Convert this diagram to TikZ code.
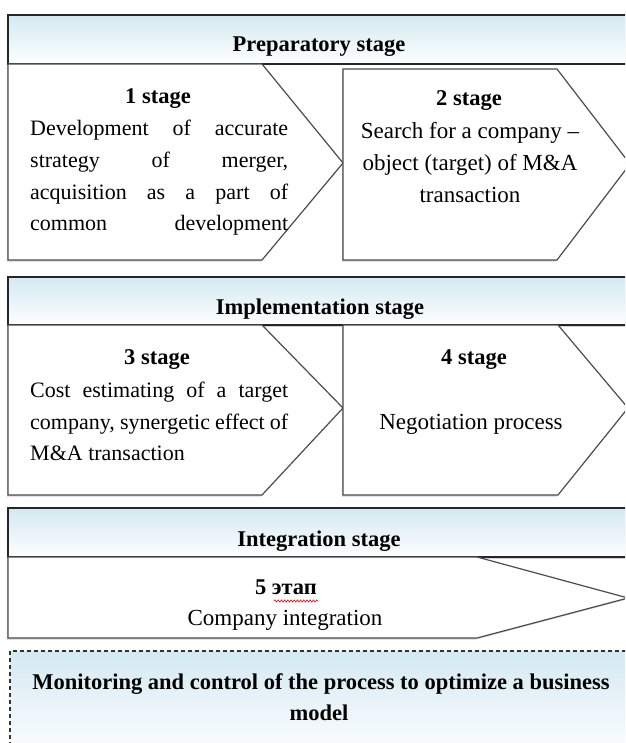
\documentclass[tikz,border=0pt]{standalone}
\usepackage{fontspec}
\setmainfont{Liberation Serif}
\usetikzlibrary{shadows,decorations.pathmorphing}
\definecolor{hdr}{RGB}{212,233,242}
\begin{document}
\begin{tikzpicture}[x=1pt,y=-1pt,
  hdrbox/.style={draw=black!85, line width=1.3pt, top color=hdr, bottom color=white!96!hdr,
    drop shadow={shadow xshift=-1.2pt, shadow yshift=-1.5pt, opacity=0.35}},
  chev/.style={draw=black!70, line width=1.2pt, fill=white,
    drop shadow={shadow xshift=-1.2pt, shadow yshift=-1.5pt, opacity=0.35}},
  ttl/.style={font=\fontsize{22.5}{27}\selectfont\bfseries, anchor=mid, inner sep=0pt, yshift=-5pt},
  txt/.style={font=\fontsize{23}{27}\selectfont, anchor=mid, inner sep=0pt, yshift=-5pt},
  jtxt/.style={font=\fontsize{22}{26}\selectfont, anchor=mid west, inner sep=0pt, yshift=-5pt}]
\useasboundingbox (0,0) rectangle (625,743);
\clip (0,0) rectangle (625,743);
\fill[white] (0,0) rectangle (625,743);

% ---------- Preparatory stage ----------
\path[hdrbox] (8,15) rectangle (660,64);
\path[chev] (8,64) -- (262,64) -- (343,163) -- (262,260) -- (8,260) -- cycle;
\path[chev] (343,69) -- (557,69) -- (630,164) -- (557,260) -- (343,260) -- cycle;
\node[ttl] (h1) at (319,44) {Preparatory stage};
\node[ttl] (s1) at (158,96) {1 stage};
\node[jtxt] (s1a) at (30,128) {\hbox to 258pt{Development\hfill of\hfill accurate}};
\node[jtxt] (s1b) at (30,160) {\hbox to 258pt{strategy\hfill of\hfill merger,}};
\node[jtxt] (s1c) at (30,192) {\hbox to 258pt{acquisition\hfill as\hfill a\hfill part\hfill of}};
\node[jtxt] (s1d) at (30,223) {\hbox to 258pt{common\hfill development}};
\node[ttl] (s2) at (469,98) {2 stage};
\node[txt] (s2a) at (470,131) {Search for a company –};
\node[txt] (s2b) at (470,163) {object (target) of M\&A};
\node[txt] (s2c) at (470,195) {transaction};

% ---------- Implementation stage ----------
\path[hdrbox] (8,277) rectangle (660,325);
\path[chev] (8,325) -- (262,325) -- (343,408) -- (262,495) -- (8,495) -- cycle;
\path[chev] (343,325) -- (558,325) -- (628,408) -- (558,495) -- (343,495) -- cycle;
\node[ttl] (h2) at (320,307) {Implementation stage};
\node[ttl] (s3) at (157,357) {3 stage};
\node[jtxt] (s3a) at (30,390) {\hbox to 258pt{Cost\hfill estimating\hfill of\hfill a\hfill target}};
\node[jtxt] (s3b) at (30,422) {\hbox to 258pt{company,\hfill synergetic\hfill effect\hfill of}};
\node[jtxt] (s3c) at (30,453) {M\&A transaction};
\node[ttl] (s4) at (474,357) {4 stage};
\node[txt] (s4a) at (471,422) {Negotiation process};

% ---------- Integration stage ----------
\path[hdrbox] (8,508) rectangle (660,557);
\path[chev] (8,557) -- (477,557) -- (628,598) -- (477,638) -- (8,638) -- cycle;
\node[ttl] (h3) at (319,539) {Integration stage};
\node[ttl] (s5) at (286,587) {5 этап};
\draw[red, line width=0.6pt, decorate, decoration={snake, amplitude=1.1pt, segment length=3.2pt}]
  (274,601) -- (318,601);
\node[txt] (s5a) at (285,618) {Company integration};

% ---------- Monitoring ----------
\path[top color=hdr, bottom color=white] (10,651) rectangle (660,760);
\draw[black!80, line width=1.1pt, dash pattern=on 4pt off 3pt] (10,760) -- (10,651) -- (660,651);
\node[ttl] (m1) at (321,682) {Monitoring and control of the process to optimize a business};
\node[ttl] (m2) at (319,713) {model};
\end{tikzpicture}
\end{document}
